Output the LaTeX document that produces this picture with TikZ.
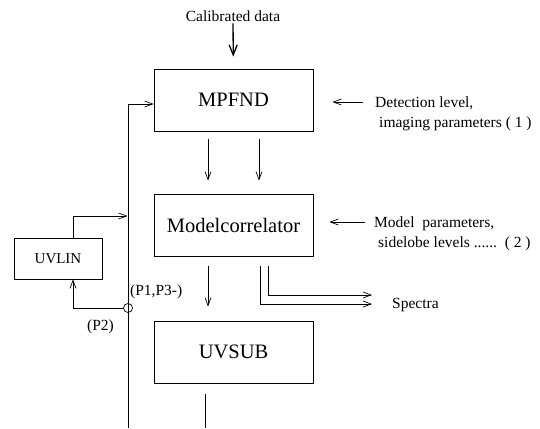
\documentclass[tikz,border=0pt]{standalone}
\usepackage{fontspec}
\setmainfont{Liberation Serif}
\usetikzlibrary{arrows.meta,positioning,calc}

\begin{document}
\begin{tikzpicture}[x=1pt,y=-1pt,
        stage/.style={draw,line width=0.7pt,minimum width=159pt,
                      minimum height=62pt,inner sep=0pt,font=\fontsize{20.5}{22}\selectfont},
        note/.style={anchor=base west,inner sep=0pt,font=\fontsize{15.5}{17}\selectfont},
        flow/.style={line width=0.7pt,-{Straight Barb[length=8pt,width=6pt]}}]
      \useasboundingbox (0,0) rectangle (540,428);
      % stages
      \node[stage] (mpfnd) at (233.5,100) {MPFND};
      \node[stage] (modcor) at (233.5,225) {Modelcorrelator};
      \node[stage] (uvsub) at (233.5,352) {UVSUB};
      \node[stage,minimum width=88pt,minimum height=41pt,
            font=\fontsize{15}{17}\selectfont] (uvlin) at (58,258.5) {UVLIN};
      % input
      \node[note,anchor=base] (caldata) at (233,22) {Calibrated data};
      \draw[flow,line width=1.3pt,-{Straight Barb[length=10pt,width=8pt]},
            shorten <=1pt,shorten >=12pt] (caldata) -- (mpfnd);
      % parameters
      \node[note] (detlvl) at (375,107) {Detection level,};
      \node[note] (imgpar) at (379,127) {imaging parameters ( 1 )};
      \node[note] (modpar) at (374,227) {Model\ \ parameters,};
      \node[note] (sidelv) at (378,247) {sidelobe levels ......\ \ ( 2 )};
      \draw[flow,shorten <=12pt,shorten >=19pt]
        ([yshift=-2pt]mpfnd.east -| detlvl.west) -- ([yshift=-2pt]mpfnd.east);
      \draw[flow,shorten <=9pt,shorten >=16pt]
        ([yshift=3pt]modcor.east -| modpar.west) -- ([yshift=3pt]modcor.east);
      % main flow
      \draw[flow,shorten <=8pt,shorten >=13pt]
        ([xshift=-25.5pt]mpfnd.south) -- ([xshift=-25.5pt]modcor.north);
      \draw[flow,shorten <=8pt,shorten >=13pt]
        ([xshift=25.5pt]mpfnd.south) -- ([xshift=25.5pt]modcor.north);
      \draw[flow,shorten <=9.5pt,shorten >=14pt]
        ([xshift=-25.5pt]modcor.south) -- ([xshift=-25.5pt]uvsub.north);
      \coordinate (outend) at (205,428);
      \draw[line width=0.7pt,shorten <=11pt] (uvsub.south -| outend) -- (outend);
      % spectra
      \node[note] (spectra) at (392,308) {Spectra};
      \coordinate (specout) at (372,304);
      \coordinate (specin) at (372,295);
      \draw[flow,shorten <=9.5pt] ([xshift=26.5pt]modcor.south) |- (specout);
      \draw[flow,shorten <=9.5pt] ([xshift=34.5pt]modcor.south) |- (specin);
      % loop back
      \coordinate (busbot) at (128,428);
      \coordinate (feedin) at (127.5,216);
      \node[circle,draw,line width=0.7pt,minimum size=9pt,inner sep=0pt] (junc) at (128,308) {};
      \draw[flow] (busbot) |- ([yshift=-4pt]mpfnd.west);
      \draw[flow] (junc.west) -| ([xshift=15pt]uvlin.south);
      \draw[flow] ([xshift=15pt]uvlin.north) |- (feedin);
      \node[note] (p13) at (130,295) {(P1,P3-)};
      \node[note] (p2) at (87,330) {(P2)};
    \end{tikzpicture}
\end{document}
